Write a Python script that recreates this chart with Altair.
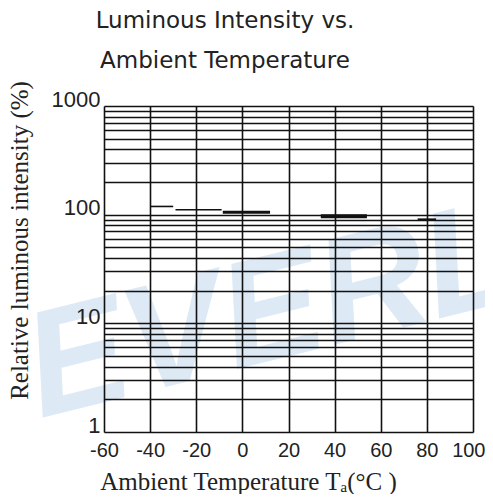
import altair as alt
import pandas as pd

# ---- data ----
temp_start = [-40, -29, -8.5, 34, 76]
temp_end = [-30, -9, 12, 54, 84]
intensity = [119, 111, 105, 96.5, 90]

x_ticks = [-60, -40, -20, 0, 20, 40, 60, 80, 100]
y_labels = [1, 10, 100, 1000]
y_grid = [m * 10 ** e for e in range(3) for m in range(1, 10)] + [1000]

title_lines = ["Luminous Intensity vs.", "Ambient Temperature"]
x_title = "Ambient Temperature Tₐ(°C )"
y_title = "Relative luminous intensity (%)"
watermark = "EVERL"

df = pd.DataFrame({"seg": list(range(len(intensity))),
                   "t0": temp_start, "t1": temp_end, "v": intensity})

W, H = 369, 326
xs = alt.Scale(domain=[-60, 100], nice=False, zero=False)
ys = alt.Scale(type="log", domain=[1, 1000], nice=False)

label_test = " || ".join(f"datum.value == {v}" for v in y_labels)
last_x = f"datum.value == {x_ticks[-1]}"

x_axis = alt.Axis(values=x_ticks, grid=True, gridColor="#111", gridWidth=1.6,
                  domain=False, ticks=False, labelFont="Liberation Sans",
                  labelExpr="datum.value < 0 ? '-' + format(abs(datum.value), 'd') : format(datum.value, 'd')",
                  labelFontSize=20, labelColor="#222", labelPadding=8,
                  labelFlush=False,
                  labelAlign={"condition": {"test": last_x, "value": "right"}, "value": "center"},
                  labelOffset={"condition": {"test": last_x, "value": 12}, "value": 0},
                  title=x_title, titleFont="Liberation Serif", titleFontSize=25,
                  titleFontWeight="normal", titleColor="#222", titleX=144,
                  titleY=57, titleAlign="center", titleBaseline="alphabetic",
                  zindex=1, labelOverlap=False)
y_axis = alt.Axis(values=y_grid, grid=True, gridColor="#111", gridWidth=1.6,
                  domain=False, ticks=False, format="d",
                  labelExpr=f"({label_test}) ? datum.label : ''",
                  labelFont="Liberation Sans", labelFontSize=22,
                  labelColor="#222", labelPadding=4, labelBaseline="alphabetic",
                  labelOverlap=False, labelFlush=False,
                  title=y_title, titleFont="Liberation Serif", titleFontSize=25,
                  titleFontWeight="normal", titleColor="#222", titleX=-85,
                  titleY=134, titleAngle=270, titleAlign="center",
                  titleBaseline="middle", zindex=1)

wm = alt.Chart(pd.DataFrame({"t": [watermark]})).mark_text(
    font="Liberation Sans", fontSize=150, fontWeight="bold", fontStyle="italic",
    color="#dde9f5", angle=346, align="center", baseline="middle"
).encode(text="t:N", x=alt.value(168), y=alt.value(208))

ttl = alt.Chart(pd.DataFrame({"k": [0]})).mark_text(
    text=title_lines, font="DejaVu Sans", fontSize=23, color="#222",
    align="center", baseline="top", lineHeight=40
).encode(x=alt.value(121), y=alt.value(-96))

base = alt.Chart(df)

def seg_layer(ids, width):
    return base.transform_filter(
        alt.FieldOneOfPredicate(field="seg", oneOf=ids)
    ).mark_rule(color="#111", strokeWidth=width).encode(
        x=alt.X("t0:Q", scale=xs, axis=x_axis),
        x2="t1:Q",
        y=alt.Y("v:Q", scale=ys, axis=y_axis),
    )

chart = alt.layer(
    wm,
    seg_layer([0, 1], 1.6),
    seg_layer([2], 3),
    seg_layer([3], 4),
    seg_layer([4], 2.5),
    ttl,
).properties(
    width=W, height=H,
    autosize=alt.AutoSizeParams(type="none"),
    padding={"left": 96, "top": 98, "right": 12, "bottom": 62},
).configure_view(stroke=None).configure(background="white")

chart.save("out.html", embed_options={"renderer": "svg", "actions": False})
